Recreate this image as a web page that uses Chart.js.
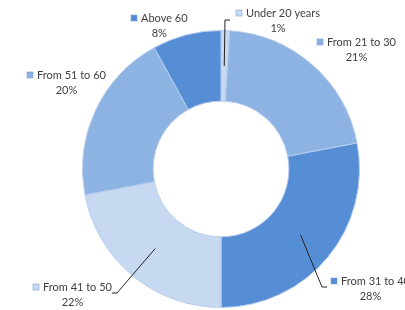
<!DOCTYPE html>
<html>
<head>
<meta charset="utf-8">
<script src="https://cdn.jsdelivr.net/npm/chart.js@4.4.0/dist/chart.umd.min.js"></script>
<style>
  html, body { margin: 0; padding: 0; background: #fff; }
  #wrap { width: 405px; height: 310px; position: relative; }
</style>
</head>
<body>
<div id="wrap"><canvas id="myChart" width="405" height="310"></canvas></div>
<script>
// dados
const faixas = ['Under 20 years', 'From 21 to 30', 'From 31 to 40', 'From 41 to 50', 'From 51 to 60', 'Above 60'];
const valores = [1, 21, 28, 22, 20, 8];
const cores = ['#c6d9f1', '#8db3e2', '#558ed5', '#c6d9f1', '#8db3e2', '#558ed5'];

// onde fica cada rotulo (x do quadrado, y da primeira linha) e o cotovelo da linha guia
const rotulos = [
    { x: 236, y: 13, guia: { r: 0.5, pts: [[225, 20], [230, 20]] } },
    { x: 317, y: 42 },
    { x: 331, y: 281, guia: { r: 0.5, pts: [[322, 287], [327, 287]] } },
    { x: 33, y: 287, guia: { r: 0.5, pts: [[117, 293], [112, 293]] } },
    { x: 27, y: 75 },
    { x: 131, y: 18 }
];

const pluginRotulos = {
    id: 'rotulos',
    afterDraw(chart) {
        const ctx = chart.ctx;
        const meta = chart.getDatasetMeta(0);
        const total = valores.reduce((a, b) => a + b, 0);
        ctx.save();
        ctx.font = '11px Lato, "Open Sans", sans-serif';
        ctx.textBaseline = 'middle';
        for (let i = 0; i < faixas.length; i++) {
            const arc = meta.data[i];
            const p = rotulos[i];
            // linha guia
            if (p.guia) {
                const ang = (arc.startAngle + arc.endAngle) / 2;
                const r = arc.innerRadius + (arc.outerRadius - arc.innerRadius) * p.guia.r;
                ctx.beginPath();
                ctx.moveTo(arc.x + Math.cos(ang) * r, arc.y + Math.sin(ang) * r);
                for (const pt of p.guia.pts) ctx.lineTo(pt[0], pt[1]);
                ctx.strokeStyle = '#222';
                ctx.lineWidth = 1;
                ctx.stroke();
            }
            // quadrado
            ctx.fillStyle = cores[i];
            ctx.fillRect(p.x, p.y - 3, 6, 6);
            ctx.strokeStyle = '#7fa5d8';
            ctx.lineWidth = 0.6;
            ctx.strokeRect(p.x, p.y - 3, 6, 6);
            // texto
            ctx.fillStyle = '#404040';
            ctx.textAlign = 'left';
            const txt = faixas[i];
            ctx.fillText(txt, p.x + 10, p.y);
            const w = ctx.measureText(txt).width + 10;
            ctx.textAlign = 'center';
            ctx.fillText(Math.round(valores[i] / total * 100) + '%', p.x + w / 2, p.y + 15);
        }
        ctx.restore();
    }
};

let dados = {
    labels: faixas,
    datasets: [{
        data: valores,
        backgroundColor: cores,
        borderColor: '#b7cdee',
        borderWidth: 1
    }]
};

let options = {
    responsive: false,
    animation: false,
    cutout: '49%',
    layout: { padding: { left: 82, right: 45, top: 30, bottom: 2 } },
    plugins: {
        legend: { display: false },
        tooltip: { enabled: false }
    }
};

let myChart = new Chart(document.getElementById('myChart'), {
    type: 'doughnut',
    data: dados,
    options: options,
    plugins: [pluginRotulos]
});
</script>
</body>
</html>
